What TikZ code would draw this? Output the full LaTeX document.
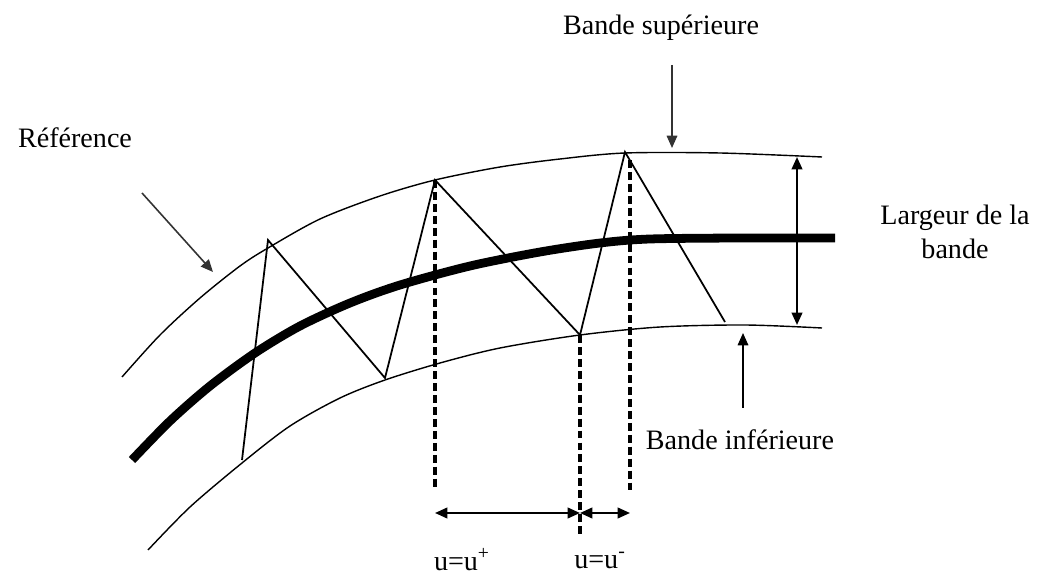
\documentclass[tikz,border=0pt]{standalone}
\usepackage{fontspec}
\setmainfont{Liberation Serif}
\usetikzlibrary{arrows.meta}
\tikzset{
    % styles
    myarr/.style={-{Triangle[length=7pt,width=6pt]}, line width=0.9pt, black!80},
    dimarr/.style={{Triangle[length=7pt,width=6pt]}-{Triangle[length=7pt,width=6pt]}, line width=1.2pt},
    band/.style={line width=0.8pt},
    ref/.style={line width=5pt},
    mydash/.style={dash pattern=on 4.5pt off 2.3pt, line width=2pt},
    mylab/.style={font=\fontsize{16}{19}\selectfont, align=center}
}
\begin{document}
\begin{tikzpicture}[x=0.02cm,y=-0.02cm]
    \useasboundingbox (0,0) rectangle (1045,577);

    % bands and reference
    \draw[band] plot[smooth] coordinates {(122,377) (160,335) (200,298) (240,266) (268,248) (320,219) (380,196) (435,180) (500,167) (560,159) (625,153) (720,153) (822,157)};
    \draw[band] plot[smooth] coordinates {(148,550) (190,507) (242,463) (290,426) (340,398) (385,380) (440,363) (500,348) (580,335) (660,327) (745,325) (822,328)};
    \draw[ref] plot[smooth] coordinates {(132,460) (170,421) (210,386) (255,353) (300,326) (350,303) (400,285) (470,266) (540,252) (600,243) (650,239) (740,238) (835,238)};

    % zigzag
    \draw[line width=1pt] (242,460) -- (268,240) -- (385,378) -- (435,180) -- (580,335) -- (625,152) -- (725,322);

    % dashed verticals
    \coordinate (P1t) at (435,180);
    \coordinate (P1b) at (435,490);
    \coordinate (P2t) at (580,335);
    \coordinate (P2b) at (580,537);
    \coordinate (P3t) at (630,160);
    \coordinate (P3b) at (630,490);
    \draw[mydash] (P1t) -- (P1b);
    \draw[mydash] (P2t) -- (P2b);
    \draw[mydash] (P3t) -- (P3b);

    % LABELS
    \node[mylab] (BS) at (661,28) {Bande supérieure};
    \node[mylab] (BI) at (740,440) {Bande inférieure};
    \node[mylab] (R) at (75,138) {Référence};
    \node[mylab] (L) at (955,232) {Largeur de la\\bande};
    \node[mylab] (Up) at (462,560) {u=u\textsuperscript{+}};
    \node[mylab] (Um) at (600,560) {u=u\textsuperscript{-}};

    % ARROWS
    \coordinate (a1) at (672,65);  \coordinate (a2) at (672,148);
    \coordinate (b1) at (743,408); \coordinate (b2) at (743,333);
    \coordinate (c1) at (142,193); \coordinate (c2) at (213,272);
    \coordinate (d1) at (797,157); \coordinate (d2) at (797,325);
    \coordinate (e1) at (435,513); \coordinate (e2) at (580,513); \coordinate (e3) at (630,513);
    \draw[myarr] (a1) -- (a2);
    \draw[myarr, black] (b1) -- (b2);
    \draw[myarr] (c1) -- (c2);
    \draw[dimarr] (d1) -- (d2);
    \draw[dimarr] (e1) -- (e2);
    \draw[dimarr] (e2) -- (e3);
\end{tikzpicture}
\end{document}
